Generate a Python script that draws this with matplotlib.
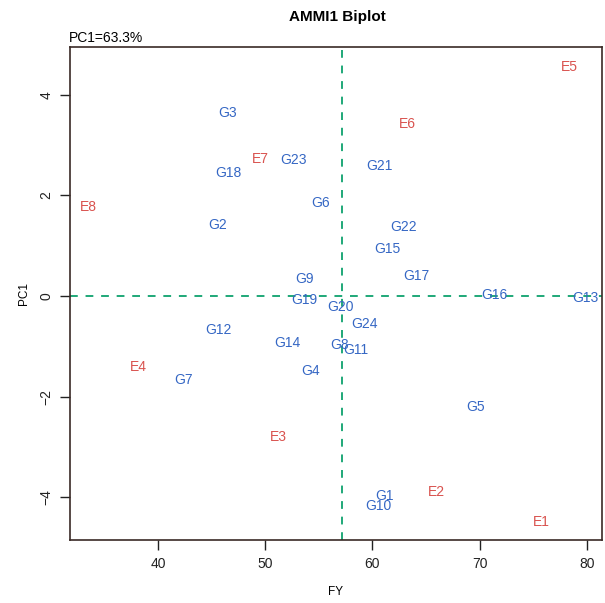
import matplotlib
matplotlib.use("Agg")
import matplotlib.pyplot as plt

plt.rcParams['font.family'] = ['Liberation Sans', 'DejaVu Sans']

# genotipos (azul)
gen_names = ['G1', 'G2', 'G3', 'G4', 'G5', 'G6', 'G7', 'G8', 'G9', 'G10', 'G11', 'G12',
             'G13', 'G14', 'G15', 'G16', 'G17', 'G18', 'G19', 'G20', 'G21', 'G22', 'G23', 'G24']
gen_fy = [61.1, 45.6, 46.5, 54.2, 69.6, 55.2, 42.4, 56.9, 53.7, 60.6, 58.5, 45.6,
          79.9, 52.1, 61.4, 71.4, 64.1, 46.6, 53.7, 57.0, 60.7, 62.9, 52.6, 59.3]
gen_pc1 = [-3.98, 1.41, 3.64, -1.49, -2.21, 1.85, -1.67, -0.97, 0.34, -4.17, -1.07, -0.68,
           -0.04, -0.93, 0.93, 0.02, 0.40, 2.45, -0.08, -0.22, 2.58, 1.37, 2.70, -0.56]

# ambientes (rojo)
env_names = ['E1', 'E2', 'E3', 'E4', 'E5', 'E6', 'E7', 'E8']
env_fy = [75.8, 66.0, 51.2, 38.2, 78.4, 63.3, 49.6, 33.5]
env_pc1 = [-4.49, -3.90, -2.80, -1.41, 4.55, 3.42, 2.72, 1.77]

mean_fy = 57.16
pc1_pct = 63.3

fig = plt.figure(figsize=(6.05, 6.03), dpi=100)
ax = fig.add_axes([0.1157, 0.1045, 0.879, 0.8176])

ax.set_xlim(31.8, 81.4)
ax.set_ylim(-4.85, 4.95)

line_col = '#1fa878'
ax.axvline(mean_fy, color=line_col, linestyle=(0, (4, 4)), linewidth=1.4, zorder=1)
ax.axhline(0, color=line_col, linestyle=(0, (4, 4)), linewidth=1.4, zorder=1)

for n, x, y in zip(gen_names, gen_fy, gen_pc1):
    ax.text(x, y, n, color='#3567c4', fontsize=10, ha='center', va='center', zorder=3)
for n, x, y in zip(env_names, env_fy, env_pc1):
    ax.text(x, y, n, color='#d9534f', fontsize=10, ha='center', va='center', zorder=3)

ax.set_xticks([40, 50, 60, 70, 80])
ax.set_yticks([-4, -2, 0, 2, 4])
ax.tick_params(direction='out', length=7, width=1, labelsize=10, colors='#222222', pad=5)
for lab in ax.get_yticklabels():
    lab.set_rotation(90)
    lab.set_va('center')

for s in ax.spines.values():
    s.set_color('#3a2a26')
    s.set_linewidth(1.2)

ax.set_xlabel('FY', fontsize=8.5, labelpad=11)
ax.set_ylabel('PC1', fontsize=8.5, labelpad=7)
fig.text(0.557, 0.972, 'AMMI1 Biplot', fontsize=11, fontweight='bold', ha='center', va='center')
ax.text(-0.002, 1.004, f'PC1={pc1_pct}%', fontsize=10, transform=ax.transAxes,
        ha='left', va='bottom')

fig.savefig('out.png', dpi=100)
